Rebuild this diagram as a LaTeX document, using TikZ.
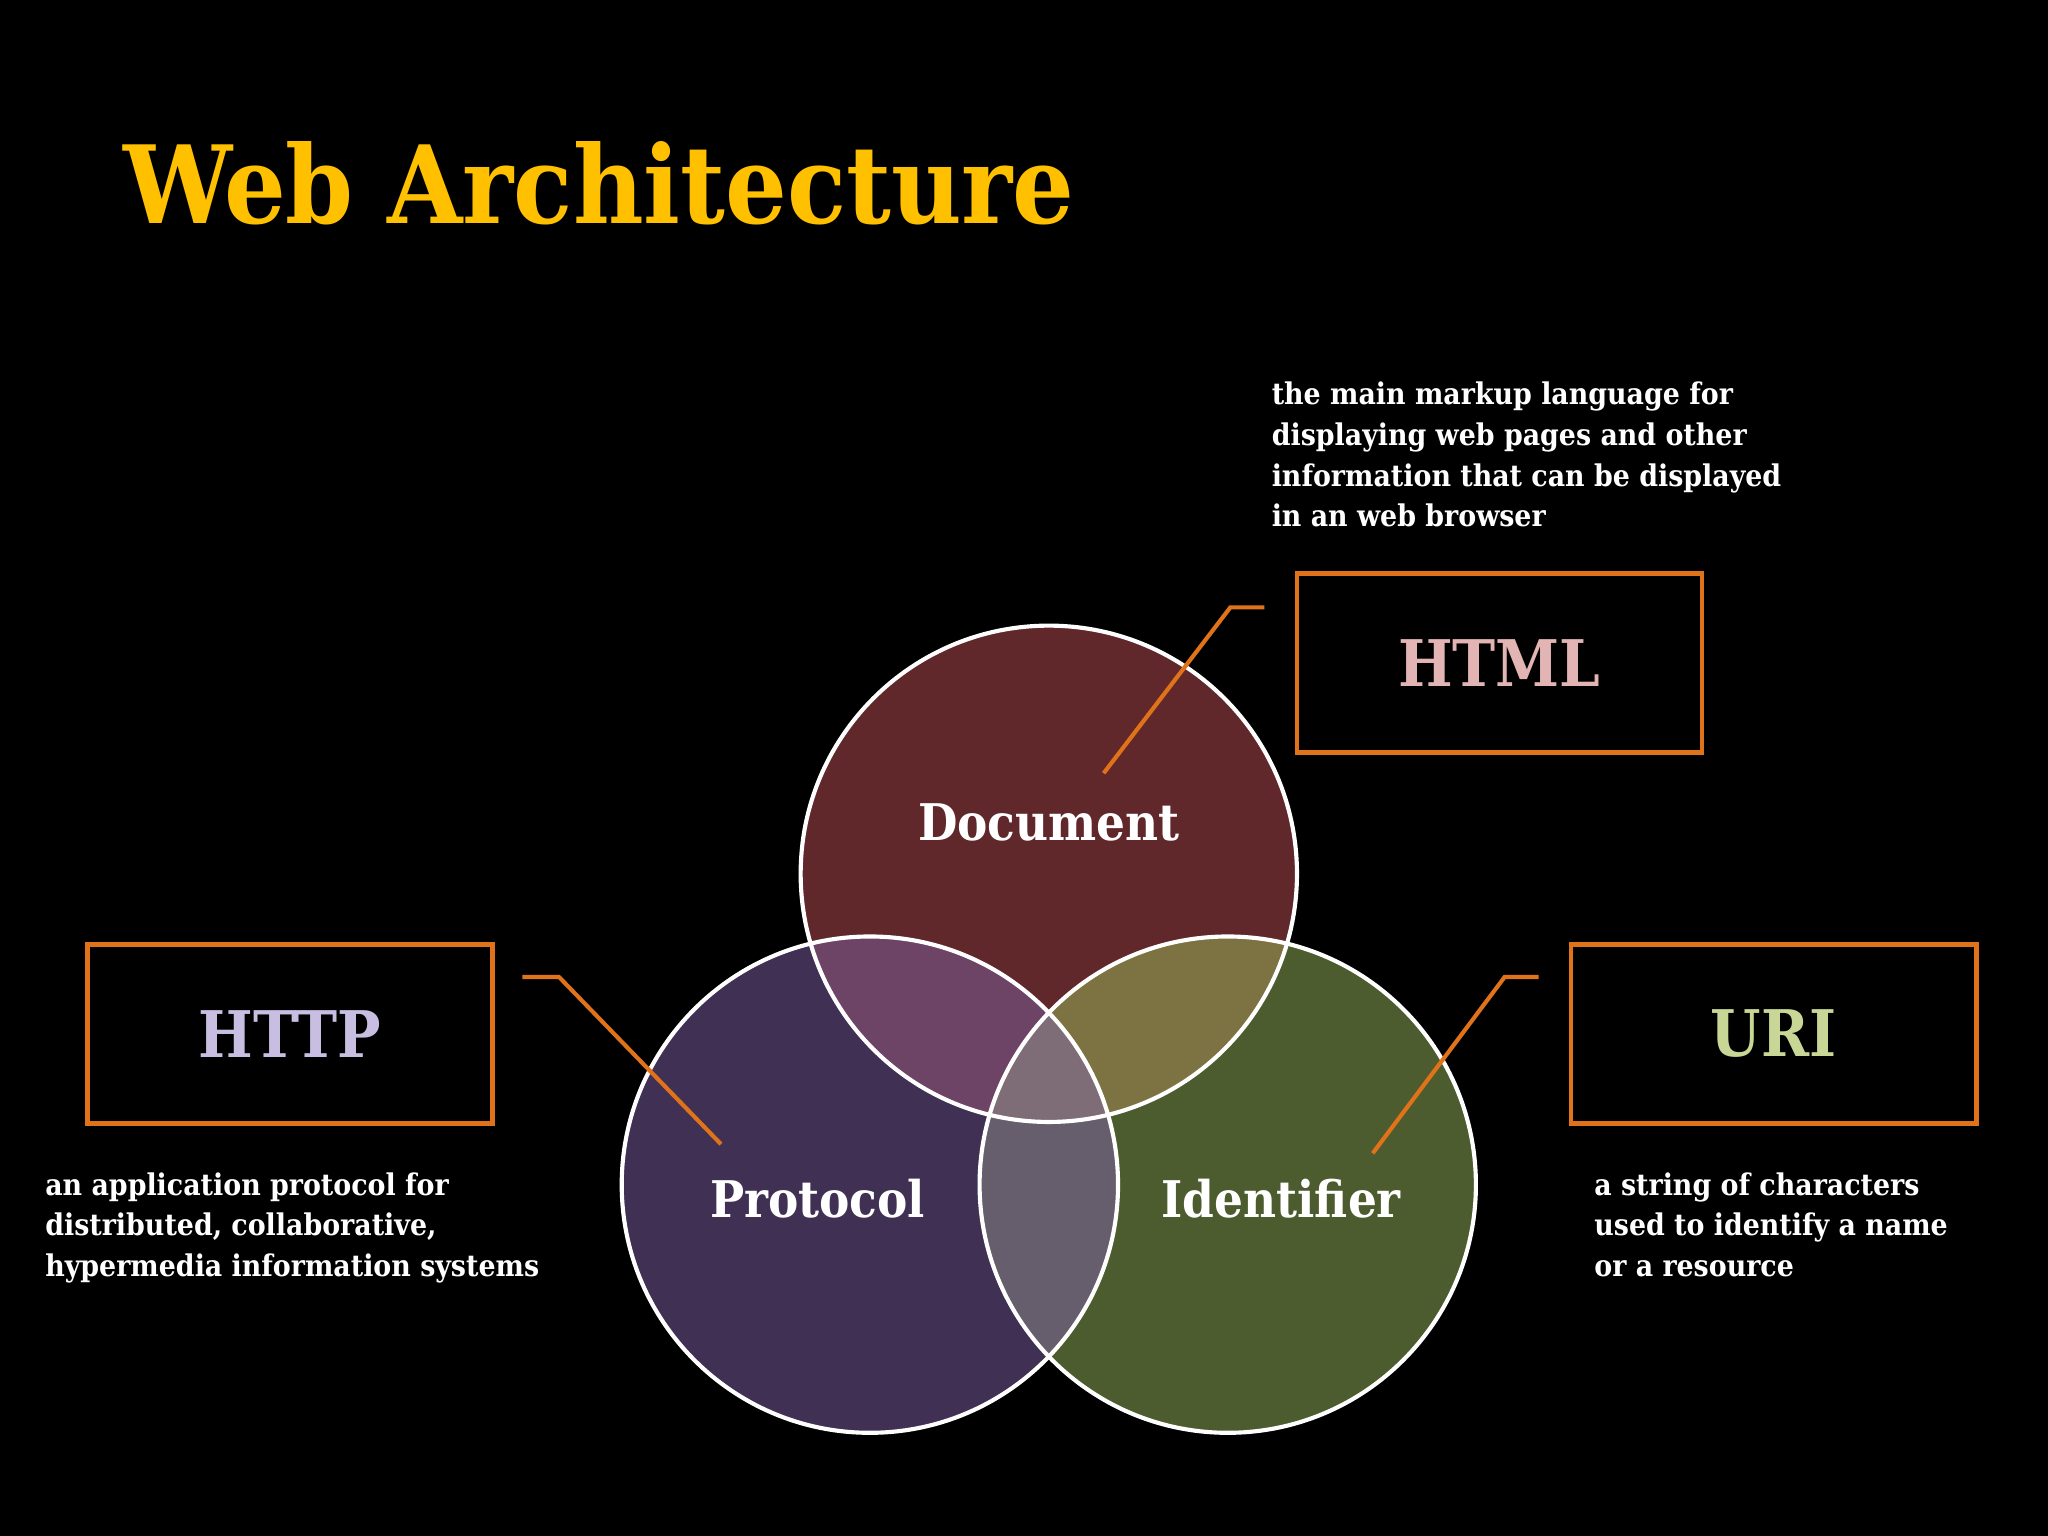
\documentclass[tikz,border=0pt]{standalone}
\usepackage{fontspec}
\setmainfont{DejaVu Serif Condensed}
\begin{document}
\begin{tikzpicture}[x=0.01cm,y=-0.01cm,
  box/.style={draw=boxor,line width=1pt,minimum width=3.1cm,minimum height=1.37cm,inner sep=0pt},
  leader/.style={draw=boxor,line width=0.9pt},
  ring/.style={draw=white,line width=0.9pt},
  desc/.style={anchor=north west,align=left,inner sep=0pt,text=white,font=\bfseries\fontsize{6.5pt}{8.85pt}\selectfont},
  lab/.style={font=\bfseries\fontsize{14pt}{17pt}\selectfont},
  clab/.style={text=white,font=\bfseries\fontsize{11pt}{13pt}\selectfont}]
\definecolor{boxor}{RGB}{224,114,26}
\definecolor{docc}{RGB}{97,40,43}
\definecolor{proc}{RGB}{64,48,84}
\definecolor{idc}{RGB}{77,92,46}
\definecolor{dp}{RGB}{110,68,102}
\definecolor{di}{RGB}{124,114,66}
\definecolor{pi}{RGB}{102,94,108}
\definecolor{dpi}{RGB}{126,108,118}
\definecolor{titlec}{RGB}{255,192,0}
\fill[black] (0,0) rectangle (1568,1176);
\useasboundingbox (0,0) rectangle (1568,1176);
\node[anchor=west,text=titlec,inner sep=0pt,font=\bfseries\fontsize{23.5pt}{28pt}\selectfont] (title) at (94,140) {Web Architecture};
% circles
\fill[docc] (803,669) circle (190);
\fill[proc] (666,907) circle (190);
\fill[idc] (940,907) circle (190);
\begin{scope}\clip (803,669) circle (190); \fill[dp] (666,907) circle (190); \fill[di] (940,907) circle (190);\end{scope}
\begin{scope}\clip (666,907) circle (190); \fill[pi] (940,907) circle (190);\end{scope}
\begin{scope}\clip (803,669) circle (190); \clip (666,907) circle (190); \fill[dpi] (940,907) circle (190);\end{scope}
\draw[ring] (803,669) circle (190);
\draw[ring] (666,907) circle (190);
\draw[ring] (940,907) circle (190);
\node[clab] (doc) at (803,630) {Document};
\node[clab] (prot) at (626,918) {Protocol};
\node[clab] (ident) at (981,918) {Identifier};
% boxes
\node[box] (html) at (1148,507.5) {};
\node[lab,text={rgb,255:red,226;green,180;blue,180}] (htmlt) at (html.center) {HTML};
\node[box] (http) at (222,791.5) {};
\node[lab,text={rgb,255:red,200;green,190;blue,225}] (httpt) at (http.center) {HTTP};
\node[box] (uri) at (1358,791.5) {};
\node[lab,text={rgb,255:red,200;green,215;blue,150}] (urit) at (uri.center) {URI};
% leaders
\coordinate (h1) at (968,465); \coordinate (h2) at (942,465); \coordinate (h3) at (845,592);
\coordinate (p1) at (400,748); \coordinate (p2) at (428,748); \coordinate (p3) at (552,876);
\coordinate (u1) at (1178,748); \coordinate (u2) at (1152,748); \coordinate (u3) at (1051,883);
\draw[leader] (h1) -- (h2) -- (h3);
\draw[leader] (p1) -- (p2) -- (p3);
\draw[leader] (u1) -- (u2) -- (u3);
% descriptions
\node[desc] (hd) at (973,292) {the main markup language for\\displaying web pages and other\\information that can be displayed\\in an web browser};
\node[desc] (pd) at (34,897) {an application protocol for\\distributed, collaborative,\\hypermedia information systems};
\node[desc] (ud) at (1220,897) {a string of characters\\used to identify a name\\or a resource};
\end{tikzpicture}
\end{document}
